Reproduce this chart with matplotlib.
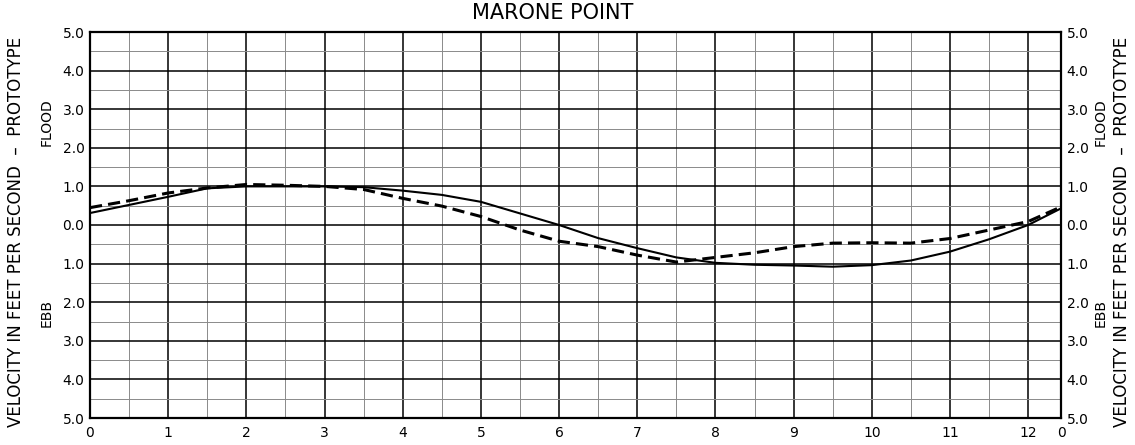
import matplotlib
matplotlib.use("Agg")
import matplotlib.pyplot as plt
import numpy as np

# tidal hours (one lunar cycle = 12.42 h)
hours = [0, 0.5, 1, 1.5, 2, 2.5, 3, 3.5, 4, 4.5, 5, 5.5, 6, 6.5, 7, 7.5,
         8, 8.5, 9, 9.5, 10, 10.5, 11, 11.5, 12, 12.42]
# velocity, flood positive / ebb negative (ft/s)
solid_vel = [0.31, 0.52, 0.73, 0.95, 1.0, 1.0, 1.0, 0.98, 0.89, 0.78, 0.60, 0.30,
             0.0, -0.34, -0.60, -0.84, -0.98, -1.03, -1.05, -1.08, -1.04, -0.92,
             -0.69, -0.37, 0.0, 0.43]
dashed_vel = [0.45, 0.63, 0.83, 0.96, 1.05, 1.03, 1.0, 0.92, 0.69, 0.49, 0.22, -0.13,
              -0.42, -0.56, -0.78, -0.96, -0.84, -0.72, -0.56, -0.47, -0.46, -0.47,
              -0.35, -0.13, 0.09, 0.47]

xtick_pos = list(range(13)) + [12.42]
xtick_lbl = [str(i) for i in range(13)] + ["0"]
ytick_pos = [5, 4, 3, 2, 1, 0, -1, -2, -3, -4, -5]
ytick_lbl = ["5.0", "4.0", "3.0", "2.0", "1.0", "0.0", "1.0", "2.0", "3.0", "4.0", "5.0"]

fig = plt.figure(figsize=(11.35, 4.45), dpi=100)
ax = fig.add_axes([90/1135, 1-418/445, (1061-90)/1135, (418-32)/445])

ax.set_xlim(0, 12.42)
ax.set_ylim(-5, 5)

# grid: half units light, whole units dark
for v in np.arange(0.5, 12.42, 0.5):
    major = float(v).is_integer()
    ax.axvline(v, color="black" if major else "#8a8a8a",
               lw=1.1 if major else 0.7, zorder=1)
for v in np.arange(-4.5, 5, 0.5):
    major = float(v).is_integer()
    ax.axhline(v, color="black" if major else "#8a8a8a",
               lw=1.1 if major else 0.7, zorder=1)

ax.plot(hours, solid_vel, color="black", lw=1.5, zorder=3)
ax.plot(hours, dashed_vel, color="black", lw=2.2, dashes=(4, 2), zorder=3)

for s in ax.spines.values():
    s.set_linewidth(1.6)

ax.set_xticks(xtick_pos)
ax.set_xticklabels(xtick_lbl, fontsize=10)
ax.set_yticks(ytick_pos)
ax.set_yticklabels(ytick_lbl, fontsize=10)
ax.tick_params(length=0, pad=4)
ax.tick_params(axis="x", pad=6)
ax.tick_params(axis="y", labelright=True, right=True)

lab = "VELOCITY IN FEET PER SECOND  \u2013  PROTOTYPE"
for x in (16/1135, 1122/1135):
    fig.text(x, 1-232/445, lab, rotation=90, ha="center", va="center", fontsize=12)
for x in (47/1135, 1101/1135):
    fig.text(x, 1-122/445, "FLOOD", rotation=90, ha="center", va="center", fontsize=10)
    fig.text(x, 1-313/445, "EBB", rotation=90, ha="center", va="center", fontsize=10)

fig.text(553/1135, 1-19/445, "MARONE POINT", ha="center", va="baseline", fontsize=15)

fig.savefig("out.png", dpi=100)
